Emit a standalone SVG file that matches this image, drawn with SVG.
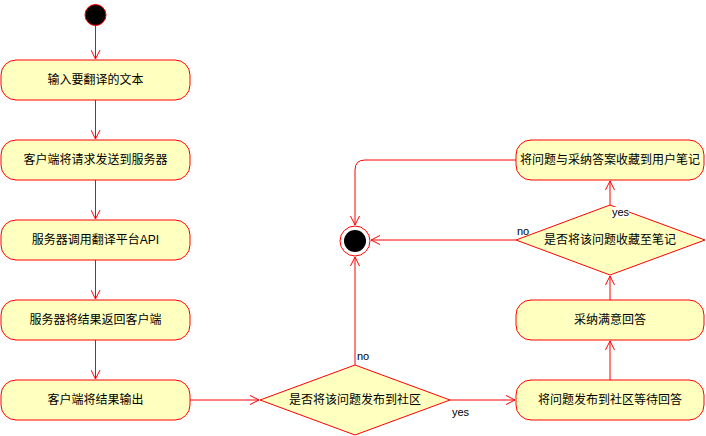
<svg xmlns="http://www.w3.org/2000/svg" width="706" height="436" viewBox="0 0 706 436">
<defs>
<style>
.n{fill:#ffffc0;stroke:#ff0000;stroke-width:1}
.t{font-family:"Liberation Sans","Noto Sans CJK SC",sans-serif;font-size:12px;fill:#000;text-anchor:middle;dominant-baseline:central}
.l{font-family:"Liberation Sans","Noto Sans CJK SC",sans-serif;font-size:11px;fill:#000}
.e{fill:none;stroke:#ff0000;stroke-width:1;marker-end:url(#a)}
</style>
<marker id="a" viewBox="0 0 10 10" refX="10" refY="5" markerWidth="10" markerHeight="10" markerUnits="userSpaceOnUse" orient="auto">
<path d="M1,0.5 L10,5 L1,9.5" fill="none" stroke="#ff0000" stroke-width="1"/>
</marker>
</defs>
<rect width="706" height="436" fill="#ffffff"/>
<g id="connectors">
<path class="e" d="M95.5,25 L95.5,59"/>
<path class="e" d="M95.5,100 L95.5,139"/>
<path class="e" d="M95.5,180 L95.5,219"/>
<path class="e" d="M95.5,260 L95.5,299"/>
<path class="e" d="M95.5,340 L95.5,379"/>
<path class="e" d="M190,400 L259,400"/>
<path class="e" d="M355,365 L355,257"/>
<path class="e" d="M450,400 L515,400"/>
<path class="e" d="M610,380 L610,341"/>
<path class="e" d="M610,300 L610,276"/>
<path class="e" d="M610,205 L610,181"/>
<path class="e" d="M516,240 L371,240"/>
<path class="e" d="M516,160 L365,160 Q355,160 355,170 L355,225"/>
</g>
<g id="start"><circle cx="95.5" cy="15" r="10.5" fill="#000" stroke="#ff0000"/></g>
<g id="n1"><rect class="n" x="1" y="60" width="189" height="40" rx="15"/><text class="t" x="95.5" y="80">输入要翻译的文本</text></g>
<g id="n2"><rect class="n" x="1" y="140" width="189" height="40" rx="15"/><text class="t" x="95.5" y="160">客户端将请求发送到服务器</text></g>
<g id="n3"><rect class="n" x="1" y="220" width="189" height="40" rx="15"/><text class="t" x="95.5" y="240">服务器调用翻译平台API</text></g>
<g id="n4"><rect class="n" x="1" y="300" width="189" height="40" rx="15"/><text class="t" x="95.5" y="320">服务器将结果返回客户端</text></g>
<g id="n5"><rect class="n" x="1" y="380" width="189" height="40" rx="15"/><text class="t" x="95.5" y="400">客户端将结果输出</text></g>
<g id="d1"><path class="n" d="M260,400 L355,365 L450,400 L355,435 Z"/><text class="t" x="355" y="400">是否将该问题发布到社区</text></g>
<g id="end"><circle cx="355" cy="241" r="15" fill="#fff" stroke="#ff0000"/><circle cx="355" cy="241" r="11" fill="#000"/></g>
<g id="n6"><rect class="n" x="516" y="380" width="188" height="40" rx="15"/><text class="t" x="610" y="400">将问题发布到社区等待回答</text></g>
<g id="n7"><rect class="n" x="516" y="300" width="188" height="40" rx="15"/><text class="t" x="610" y="320">采纳满意回答</text></g>
<g id="d2"><path class="n" d="M516,240 L610,205 L705,240 L610,275 Z"/><text class="t" x="610" y="240">是否将该问题收藏至笔记</text></g>
<g id="n8"><rect class="n" x="516" y="140" width="188" height="40" rx="15"/><text class="t" x="610" y="160">将问题与采纳答案收藏到用户笔记</text></g>
<g id="labels">
<text class="l" x="357" y="360">no</text>
<text class="l" x="452" y="416">yes</text>
<text class="l" x="517" y="235">no</text>
<rect x="611" y="207" width="18" height="11" fill="#fff"/>
<text class="l" x="612" y="216">yes</text>
</g>
</svg>
